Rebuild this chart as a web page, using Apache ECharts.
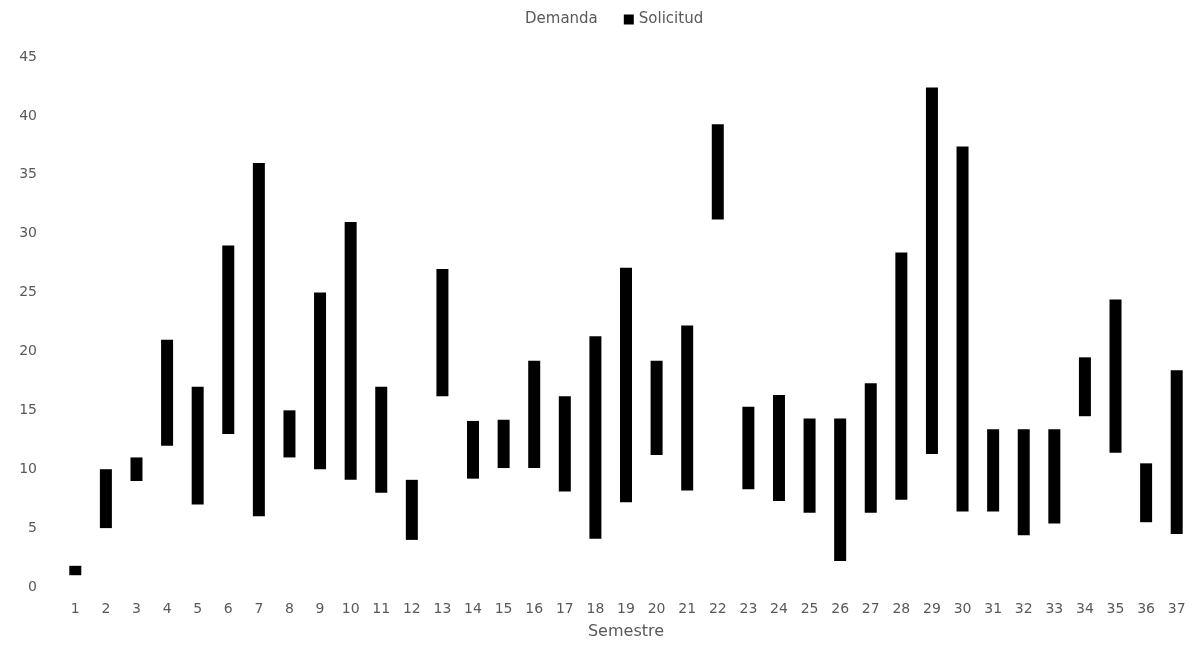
<!DOCTYPE html>
<html>
<head>
<meta charset="utf-8">
<script src="https://cdn.jsdelivr.net/npm/echarts@6/dist/echarts.min.js"></script>
<style>
html,body{margin:0;padding:0;background:#fff;}
#chart{width:1193px;height:645px;}
</style>
</head>
<body>
<div id="chart"></div>
<script>
const semestres = ['1','2','3','4','5','6','7','8','9','10','11','12','13','14','15','16','17','18','19','20','21','22','23','24','25','26','27','28','29','30','31','32','33','34','35','36','37'];
const demanda = [1,5,9,12,7,13,6,11,10,9.1,8,4,16.2,9.2,10.1,10.1,8.1,4.1,7.2,11.2,8.2,31.2,8.3,7.3,6.3,2.2,6.3,7.4,11.3,6.4,6.4,4.4,5.4,14.5,11.4,5.5,4.5];
const solicitud = [1.8,10,11,21,17,29,36,15,25,31,17,9.1,27,14.1,14.2,19.2,16.2,21.3,27.1,19.2,22.2,39.3,15.3,16.3,14.3,14.3,17.3,28.4,42.4,37.4,13.4,13.4,13.4,19.5,24.4,10.5,18.4];
const yTicks = [0,5,10,15,20,25,30,35,40,45];

const rango = solicitud.map((v, i) => +(v - demanda[i]).toFixed(2));

const chart = echarts.init(document.getElementById('chart'));
const gray = '#595959';
chart.setOption({
  animation: false,
  backgroundColor: '#ffffff',
  textStyle: { fontFamily: 'DejaVu Sans' },
  legend: {
    top: 7,
    left: 505,
    itemWidth: 10,
    itemHeight: 10,
    itemGap: 26,
    textStyle: { color: gray, fontSize: 15 },
    data: [
      { name: 'Demanda', icon: 'rect', itemStyle: { color: 'rgba(0,0,0,0)' } },
      { name: 'Solicitud', icon: 'rect' }
    ]
  },
  grid: { left: 60, right: 1, top: 57, bottom: 55 },
  xAxis: {
    type: 'category',
    data: semestres,
    name: 'Semestre',
    nameLocation: 'middle',
    nameGap: 37,
    nameTextStyle: { color: gray, fontSize: 16 },
    axisLine: { show: false },
    axisTick: { show: false },
    axisLabel: { color: gray, fontSize: 14, margin: 15 }
  },
  yAxis: {
    type: 'value',
    min: yTicks[0],
    max: yTicks[yTicks.length - 1],
    interval: 5,
    splitLine: { show: false },
    axisLine: { show: false },
    axisTick: { show: false },
    axisLabel: { color: gray, fontSize: 14, margin: 23 }
  },
  series: [
    {
      name: 'Demanda',
      type: 'bar',
      stack: 'total',
      barWidth: 12,
      itemStyle: { color: 'rgba(0,0,0,0)' },
      data: demanda
    },
    {
      name: 'Solicitud',
      type: 'bar',
      stack: 'total',
      barWidth: 12,
      itemStyle: { color: '#000000' },
      data: rango
    }
  ]
});
</script>
</body>
</html>
